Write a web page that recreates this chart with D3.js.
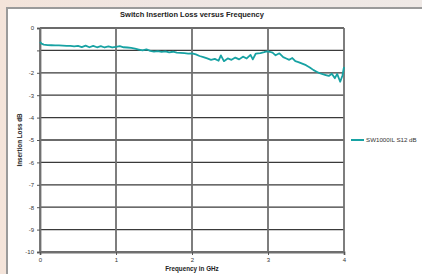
<!DOCTYPE html>
<html>
<head>
<meta charset="utf-8">
<script src="https://cdn.jsdelivr.net/npm/d3@7"></script>
<style>
  body { margin: 0; background: linear-gradient(90deg, #f4e4da, #efe6e3 40%, #efe9e6); }
  #chart { width: 422px; height: 274px; overflow: hidden; }
  text { font-family: "Liberation Sans", Arial, sans-serif; }
</style>
</head>
<body>
<div id="chart"></div>
<script>
// insertion loss readings, frequency in GHz
var freqGHz = [0.00, 0.02, 0.05, 0.10, 0.15, 0.20, 0.25, 0.30, 0.35, 0.40,
  0.45, 0.50, 0.55, 0.60, 0.65, 0.70, 0.75, 0.80, 0.85, 0.90,
  0.95, 1.00, 1.05, 1.10, 1.15, 1.20, 1.25, 1.30, 1.35, 1.40,
  1.45, 1.50, 1.55, 1.60, 1.65, 1.70, 1.75, 1.80, 1.85, 1.90,
  1.95, 2.00, 2.05, 2.10, 2.15, 2.20, 2.25, 2.30, 2.35, 2.38,
  2.42, 2.47, 2.52, 2.57, 2.62, 2.67, 2.72, 2.77, 2.80, 2.84,
  2.90, 2.95, 2.98, 3.02, 3.06, 3.10, 3.15, 3.20, 3.24, 3.28,
  3.32, 3.36, 3.40, 3.45, 3.50, 3.55, 3.60, 3.64, 3.68, 3.72,
  3.76, 3.80, 3.84, 3.88, 3.91, 3.95, 3.98, 4.00];
var s12dB = [-0.62, -0.70, -0.74, -0.76, -0.77, -0.78, -0.78, -0.79, -0.80, -0.80,
  -0.82, -0.80, -0.85, -0.79, -0.86, -0.80, -0.86, -0.81, -0.87, -0.82,
  -0.87, -0.84, -0.81, -0.86, -0.87, -0.89, -0.92, -0.96, -1.00, -0.95,
  -1.02, -1.05, -1.03, -1.07, -1.04, -1.09, -1.06, -1.10, -1.11, -1.12,
  -1.14, -1.13, -1.18, -1.25, -1.30, -1.36, -1.42, -1.38, -1.46, -1.22,
  -1.48, -1.36, -1.42, -1.32, -1.40, -1.28, -1.36, -1.20, -1.40, -1.14,
  -1.12, -1.08, -1.04, -1.06, -1.10, -1.22, -1.13, -1.30, -1.36, -1.42,
  -1.34, -1.48, -1.52, -1.59, -1.66, -1.76, -1.88, -1.95, -2.02, -2.06,
  -2.10, -2.14, -2.04, -2.24, -2.05, -2.40, -2.12, -1.74];
var xTicks = [0, 1, 2, 3, 4];
var yTicks = [0, -1, -2, -3, -4, -5, -6, -7, -8, -9, -10];
var yTickLabels = ["0", "", "-2", "-3", "-4", "-5", "-6", "-7", "-8", "-9", "-10"];
var seriesName = "SW1000IL S12 dB";

var margin = {top: 28, right: 78, bottom: 22, left: 40},
    width = 344 - margin.left,
    height = 252 - margin.top;

var root = d3.select("#chart").append("svg")
    .attr("width", 422)
    .attr("height", 274);

// white chart panel
root.append("rect")
    .attr("x", 7).attr("y", 8)
    .attr("width", 430).attr("height", 280)
    .attr("fill", "#fff")
    .attr("stroke", "#9a9a9a")
    .attr("stroke-width", 2);

var svg = root.append("g")
    .attr("transform", "translate(" + margin.left + "," + margin.top + ")");

var x = d3.scaleLinear().domain([0, 4]).range([0, width]);
var y = d3.scaleLinear().domain([-10, 0]).range([height, 0]);

// grid
svg.selectAll(".hgrid").data(yTicks).enter().append("line")
    .attr("x1", 0).attr("x2", width)
    .attr("y1", function(d) { return y(d); })
    .attr("y2", function(d) { return y(d); })
    .attr("stroke", "#3a3a3a")
    .attr("stroke-width", 1.3);
svg.selectAll(".vgrid").data(xTicks).enter().append("line")
    .attr("y1", 0).attr("y2", height)
    .attr("x1", function(d) { return x(d); })
    .attr("x2", function(d) { return x(d); })
    .attr("stroke", "#707070")
    .attr("stroke-width", 1.8);

// axes
var yAxis = d3.axisLeft(y).tickValues(yTicks).tickSize(3).tickPadding(3)
    .tickFormat(function(d, i) { return yTickLabels[i]; });
var gy = svg.append("g").call(yAxis);
var xAxis = d3.axisBottom(x).tickValues(xTicks).tickSize(3).tickPadding(3)
    .tickFormat(d3.format("d"));
var gx = svg.append("g").attr("transform", "translate(0," + height + ")").call(xAxis);
[gx, gy].forEach(function(g) {
  g.select(".domain").attr("stroke", "#707070").attr("stroke-width", 1.8);
  g.selectAll(".tick line").attr("stroke", "#555");
  g.selectAll("text").attr("fill", "#333").style("font-size", "6px")
    .style("font-family", "Liberation Sans, Arial, sans-serif");
});

// series
var pts = freqGHz.map(function(f, i) { return [f, s12dB[i]]; });
svg.append("path")
    .datum(pts)
    .attr("fill", "none")
    .attr("stroke", "#17a2a3")
    .attr("stroke-width", 1.8)
    .attr("stroke-linejoin", "round")
    .attr("d", d3.line().x(function(d) { return x(d[0]); }).y(function(d) { return y(d[1]); }));

// titles
root.append("text")
    .attr("x", 192).attr("y", 17)
    .attr("text-anchor", "middle")
    .style("font-size", "7.5px").style("font-weight", "bold").attr("fill", "#222")
    .text("Switch Insertion Loss versus Frequency");
root.append("text")
    .attr("x", 192).attr("y", 271)
    .attr("text-anchor", "middle")
    .style("font-size", "6.3px").style("font-weight", "bold").attr("fill", "#222")
    .text("Frequency in GHz");
root.append("text")
    .attr("transform", "translate(22,140) rotate(-90)")
    .attr("text-anchor", "middle")
    .style("font-size", "6.3px").style("font-weight", "bold").attr("fill", "#222")
    .text("Insertion Loss dB");

// legend
var lg = root.append("g").attr("transform", "translate(351,140)");
lg.append("line").attr("x1", 0).attr("x2", 13).attr("y1", 0).attr("y2", 0)
    .attr("stroke", "#17a2a3").attr("stroke-width", 2);
lg.append("text").attr("x", 15).attr("y", 2.2)
    .style("font-size", "6.2px").attr("fill", "#333")
    .text(seriesName);
</script>
</body>
</html>
